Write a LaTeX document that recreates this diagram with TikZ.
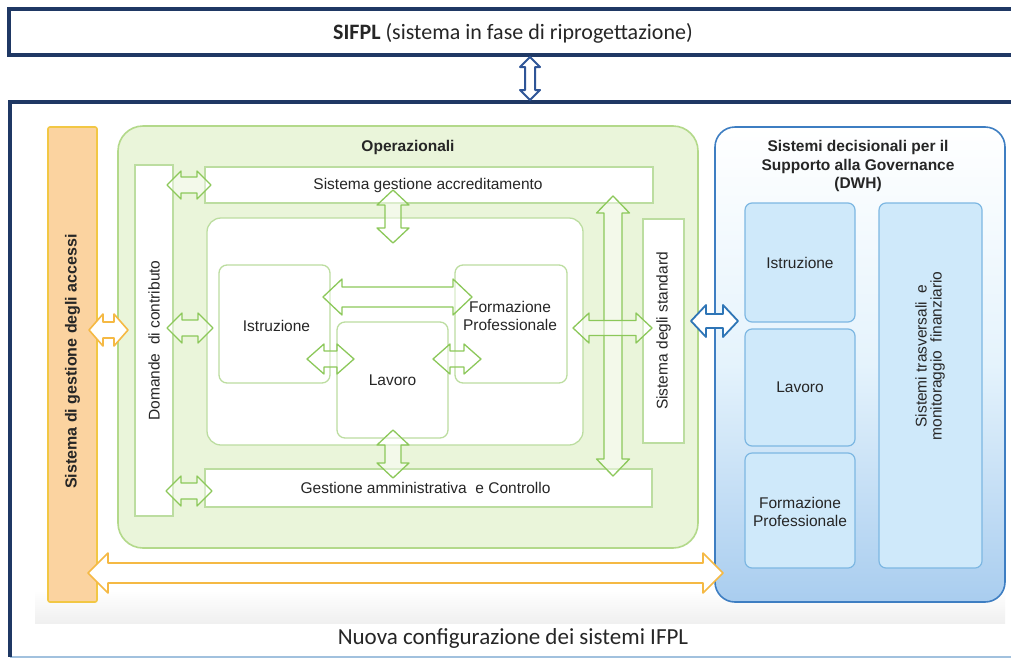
\documentclass[tikz,border=0pt]{standalone}
\usepackage{fontspec}
\setmainfont{Liberation Sans}
\newfontfamily\calib{Carlito}
\usetikzlibrary{calc}

\definecolor{navy}{HTML}{1F3864}
\definecolor{navyarrow}{HTML}{2F5597}
\definecolor{opfill}{HTML}{EAF5DA}
\definecolor{opdraw}{HTML}{B3D98A}
\definecolor{boxdraw}{HTML}{BCDDA0}
\definecolor{grarrow}{HTML}{8CC85A}
\definecolor{orfill}{HTML}{FBD3A0}
\definecolor{ordraw}{HTML}{F2C744}
\definecolor{orarrow}{HTML}{F5B944}
\definecolor{dwhdraw}{HTML}{3E7EC2}
\definecolor{dwhfill}{HTML}{A9CDEF}
\definecolor{dwhin}{HTML}{CFE9FA}
\definecolor{dwhindraw}{HTML}{7DB7E2}
\definecolor{blarrow}{HTML}{2E75B6}
\definecolor{txt}{HTML}{262626}

% horizontal double block arrow: style, left tip, right tip, shaft half, head half, head length
\newcommand{\harrow}[6]{%
  \draw[#1] let \p1=(#2), \p2=(#3) in
    (\x1,\y1) -- (\x1+#6pt,\y1+#5pt) -- (\x1+#6pt,\y1+#4pt) -- (\x2-#6pt,\y1+#4pt)
    -- (\x2-#6pt,\y1+#5pt) -- (\x2,\y1) -- (\x2-#6pt,\y1-#5pt) -- (\x2-#6pt,\y1-#4pt)
    -- (\x1+#6pt,\y1-#4pt) -- (\x1+#6pt,\y1-#5pt) -- cycle;}
% vertical double block arrow: style, top tip, bottom tip, shaft half, head half, head length
\newcommand{\varrow}[6]{%
  \draw[#1] let \p1=(#2), \p2=(#3) in
    (\x1,\y1) -- (\x1+#5pt,\y1-#6pt) -- (\x1+#4pt,\y1-#6pt) -- (\x1+#4pt,\y2+#6pt)
    -- (\x1+#5pt,\y2+#6pt) -- (\x1,\y2) -- (\x1-#5pt,\y2+#6pt) -- (\x1-#4pt,\y2+#6pt)
    -- (\x1-#4pt,\y1-#6pt) -- (\x1-#5pt,\y1-#6pt) -- cycle;}

\tikzset{
  box/.style={anchor=north west, inner sep=0pt, outer sep=0pt},
  opbox/.style={box, draw=boxdraw, fill=white, line width=1.3pt},
  dwhbox/.style={box, draw=dwhindraw, fill=dwhin, line width=1.2pt, rounded corners=7pt},
  garrow/.style={draw=grarrow, fill=white, fill opacity=0.45, line width=1.3pt, line join=round},
  oarrow/.style={draw=orarrow, fill=white, line width=1.6pt, line join=round},
  barrow/.style={draw=blarrow, fill=white, line width=1.8pt, line join=round},
  narrow/.style={draw=navyarrow, fill=white, line width=2pt, line join=round},
  lbl/.style={text=txt, font=\fontsize{15.5}{18}\selectfont},
  blbl/.style={text=txt, font=\bfseries\fontsize{15.5}{18.5}\selectfont, align=center},
}

\begin{document}
\begin{tikzpicture}[x=1pt,y=-1pt]
\useasboundingbox (0,0) rectangle (1011,659);
\fill[white] (0,0) rectangle (1011,659);

% top system
\node[box, draw=navy, line width=3.5pt, minimum width=1030pt, minimum height=46pt] (sifpl) at (9,9) {};
\node[text=txt, font=\calib\fontsize{22}{25}\selectfont] (sifpltxt) at (513,33)
  {\textbf{SIFPL} (sistema in fase di riprogettazione)};

% main frame
\node[box, minimum width=1030pt, minimum height=555pt] (main) at (10,102) {};
\shade[top color=white, bottom color=black!6] (35,590) rectangle (1005,623);
\draw[blarrow!45, line width=1.5pt] (main.south west) -- (main.south east);
\draw[navy, line width=4pt] (main.north east) -- (main.north west) -- (main.south west);
\node[text=txt, font=\calib\fontsize{23}{26}\selectfont] (ifpl) at (513,638)
  {Nuova configurazione dei sistemi IFPL};

% access management bar
\node[box, draw=ordraw, fill=orfill, line width=1.6pt, rounded corners=2pt,
      minimum width=49pt, minimum height=475pt] (acc) at (48,127) {};
\node[blbl, rotate=90, font=\bfseries\fontsize{16}{18.5}\selectfont] at ($(acc.center)+(0,-3)$) {Sistema di gestione degli accessi};

% operational systems
\node[box, draw=opdraw, fill=opfill, line width=1.6pt, rounded corners=25pt,
      minimum width=580pt, minimum height=422pt] (oper) at (118,126) {};
\node[blbl] at (408,147) {Operazionali};

\node[opbox, minimum width=38pt, minimum height=351pt] (dom) at (135,165) {};
\node[lbl, rotate=90] at (dom.center) {Domande\ \ di contributo};

\node[opbox, minimum width=448pt, minimum height=36pt] (accr) at (205,167) {};
\node[lbl] at ($(accr.center)+(-1,0)$) {Sistema gestione accreditamento};

\node[opbox, minimum width=447pt, minimum height=38pt] (gest) at (205,469) {};
\node[lbl] at ($(gest.center)+(-3,0)$) {Gestione amministrativa\ \ e Controllo};

\node[opbox, rounded corners=14pt, minimum width=376pt, minimum height=227pt] (inner) at (207,218) {};

\node[opbox, rounded corners=8pt, minimum width=111pt, minimum height=118pt] (istr) at (219,265) {};
\node[lbl] at ($(istr.center)+(2,2)$) {Istruzione};
\node[opbox, rounded corners=8pt, minimum width=112pt, minimum height=118pt] (form) at (455,265) {};
\node[lbl, align=center] at ($(form.center)+(-1,-8)$) {Formazione\\Professionale};
\node[opbox, rounded corners=8pt, minimum width=111pt, minimum height=116pt] (lav) at (337,322) {};
\node[lbl] at (lav.center) {Lavoro};

\node[opbox, minimum width=41pt, minimum height=224pt] (std) at (643,219) {};
\node[lbl, rotate=90] at (std.center) {Sistema degli standard};

% decision support systems
\node[box, draw=dwhdraw, line width=1.6pt, rounded corners=20pt, top color=white,
      bottom color=dwhfill, middle color=dwhin!55, minimum width=290pt, minimum height=475pt] (dwh) at (715,127) {};
\node[blbl] at (858,166) {Sistemi decisionali per il\\Supporto alla Governance\\(DWH)};
\node[dwhbox, minimum width=110pt, minimum height=119pt] (dist) at (745,203) {};
\node[lbl] at (dist.center) {Istruzione};
\node[dwhbox, minimum width=110pt, minimum height=117pt] (dlav) at (745,329) {};
\node[lbl] at (dlav.center) {Lavoro};
\node[dwhbox, minimum width=110pt, minimum height=115pt] (dform) at (745,453) {};
\node[lbl, align=center] at ($(dform.center)+(0,1)$) {Formazione\\Professionale};
\node[dwhbox, minimum width=103pt, minimum height=365pt] (dtras) at (879,203) {};
\node[lbl, rotate=90, align=center, font=\fontsize{15.5}{15}\selectfont] at (930,356)
  {Sistemi trasversali\ \ e\\monitoraggio\ \ finanziario};

% arrow end points
\coordinate (sifplB) at (530,57);    \coordinate (mainT) at (530,100);
\coordinate (accR) at (89,330);      \coordinate (domL) at (128,330);
\coordinate (accB) at (88,573);      \coordinate (dwhB) at (723,573);
\coordinate (domA) at (167,185);     \coordinate (accrL) at (211,185);
\coordinate (domI) at (167,328);     \coordinate (innerL) at (213,328);
\coordinate (domG) at (166,491);     \coordinate (gestL) at (212,491);
\coordinate (accrB) at (393,190);    \coordinate (innerT) at (393,243);
\coordinate (innerB) at (393,430);   \coordinate (gestT) at (393,478);
\coordinate (istrR) at (323,297);    \coordinate (formL) at (472,297);
\coordinate (istrL) at (307,359);    \coordinate (lavL) at (354,359);
\coordinate (lavR) at (433,359);     \coordinate (formB) at (481,359);
\coordinate (accrR) at (613,196);    \coordinate (gestR) at (613,476);
\coordinate (innerR) at (573,328);   \coordinate (stdL) at (652,328);
\coordinate (operR) at (691,321);    \coordinate (dwhL) at (738,321);

% connectors
\varrow{narrow}{sifplB}{mainT}{5}{10}{10}
\harrow{oarrow}{accR}{domL}{8}{16}{14}
\harrow{oarrow}{accB}{dwhB}{10}{20}{20}
\harrow{garrow}{domA}{accrL}{8}{14}{14}
\harrow{garrow}{domI}{innerL}{8}{15}{15}
\harrow{garrow}{domG}{gestL}{8}{15}{15}
\varrow{garrow}{accrB}{innerT}{8}{16}{15}
\varrow{garrow}{innerB}{gestT}{8}{16}{15}
\harrow{garrow}{istrR}{formL}{10}{18}{19}
\harrow{garrow}{istrL}{lavL}{8}{15}{17}
\harrow{garrow}{lavR}{formB}{8}{15}{17}
\varrow{garrow}{accrR}{gestR}{9}{16.5}{17}
\harrow{garrow}{innerR}{stdL}{7.5}{15}{16}
\harrow{barrow}{operR}{dwhL}{7}{16}{15}
\end{tikzpicture}
\end{document}
